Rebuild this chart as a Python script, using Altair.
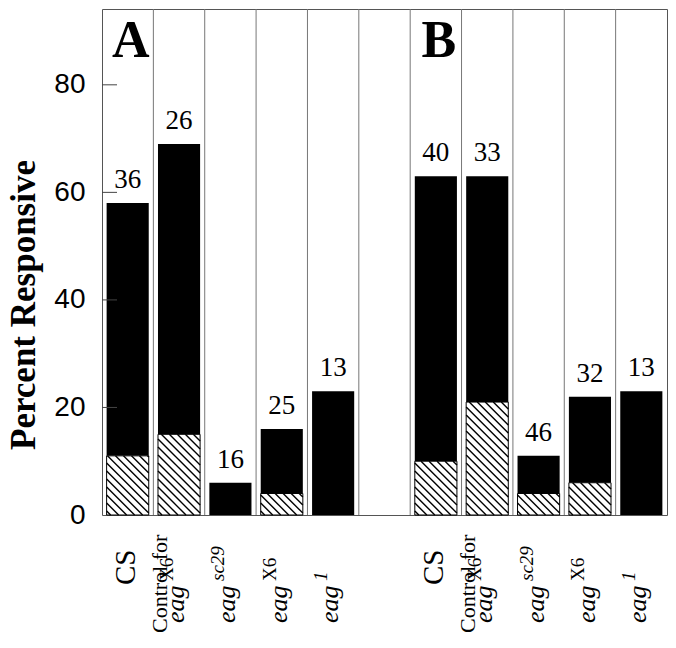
import altair as alt
import pandas as pd
import numpy as np

# ---------------- data ----------------
panels = ["A", "B"]
label_pre = ["", "Control for", "", "", ""]
label_base = ["CS", "eag", "eag", "eag", "eag"]
label_sup = ["", "X6", "sc29", "X6", "1"]
sup_italic = [False, False, True, False, True]

total_A = [58, 69, 6, 16, 23]
hatch_A = [11, 15, 0, 4, 0]
n_A = [36, 26, 16, 25, 13]

total_B = [63, 63, 11, 22, 23]
hatch_B = [10, 21, 4, 6, 0]
n_B = [40, 33, 46, 32, 13]

y_ticks = [0, 20, 40, 60, 80]

# ---------------- layout constants ----------------
W, H = 565, 506
YMAX = 94.1
NCOL = 11
HALF = 0.41
SERIF = "Liberation Serif"
SANS = "Liberation Sans"

rows = []
for p, (tot, hat, ns) in enumerate([(total_A, hatch_A, n_A), (total_B, hatch_B, n_B)]):
    for i in range(5):
        rows.append(dict(panel=panels[p], pos=p * 6 + i, total=tot[i], hatch=hat[i], n=ns[i],
                         pre=label_pre[i], base=label_base[i], sup=label_sup[i],
                         sup_it=sup_italic[i]))
df = pd.DataFrame(rows)
df["x0"] = df["pos"] - HALF
df["x1"] = df["pos"] + HALF

# hatch lines (decoration derived from the hatched segment of each bar)
sx = W / NCOL
sy = H / YMAX
bw = 2 * HALF * sx
hl = []
for _, r in df[df.hatch > 0].iterrows():
    hh = r.hatch * sy
    for k in np.arange(4, bw + hh, 8.0):
        u0, u1 = max(0.0, k - hh), min(bw, k)
        if u1 - u0 < 0.5:
            continue
        hl.append(dict(hx=r.x0 + u0 / sx, hy=(k - u0) / sy, hx2=r.x0 + u1 / sx, hy2=(k - u1) / sy))
hdf = pd.DataFrame(hl)

seps = pd.DataFrame({"s": [k + 0.5 for k in range(NCOL - 1)]})
ticks_df = pd.DataFrame({"t": y_ticks[1:]})
letters = pd.DataFrame({"pos": [0, 6], "letter": panels})

xs = alt.Scale(domain=[-0.5, NCOL - 0.5], nice=False, zero=False)
ys = alt.Scale(domain=[0, YMAX], nice=False, zero=True)
yaxis = alt.Axis(values=y_ticks, ticks=False, domain=False, grid=False,
                 labelFont=SANS, labelFontSize=28, labelColor="black",
                 labelPadding=17, title=None)

base = alt.Chart(df)

sep_layer = alt.Chart(seps).mark_rule(color="#777", strokeWidth=1).encode(
    x=alt.X("s:Q", scale=xs, axis=None), y=alt.value(0), y2=alt.value(H))

tick_layer = alt.Chart(ticks_df).mark_rule(color="#444", strokeWidth=1).encode(
    y=alt.Y("t:Q", scale=ys, axis=yaxis), x=alt.value(0), x2=alt.value(15))

black = base.mark_rect(color="black").encode(
    x=alt.X("x0:Q", scale=xs, axis=None), x2="x1:Q",
    y=alt.Y("hatch:Q", scale=ys, axis=yaxis),
    y2="total:Q")

hatch_rect = base.transform_filter("datum.hatch > 0").mark_rect(
    fill="white", stroke="black", strokeWidth=1).encode(
    x=alt.X("x0:Q", scale=xs, axis=None), x2="x1:Q",
    y=alt.Y("hatch:Q", scale=ys, axis=yaxis), y2=alt.datum(0))

hatch_lines = alt.Chart(hdf).mark_rule(color="black", strokeWidth=1.4).encode(
    x=alt.X("hx:Q", scale=xs, axis=None), x2="hx2:Q",
    y=alt.Y("hy:Q", scale=ys, axis=yaxis), y2="hy2:Q")

n_text = base.mark_text(font=SERIF, fontSize=27, baseline="alphabetic", dy=-15,
                        color="black").encode(
    x=alt.X("pos:Q", scale=xs, axis=None), y=alt.Y("total:Q", scale=ys, axis=yaxis),
    text="n:N")

letter_text = alt.Chart(letters).mark_text(font=SERIF, fontSize=52, fontWeight="bold",
                                           baseline="alphabetic", dx=3, color="black").encode(
    x=alt.X("pos:Q", scale=xs, axis=None), y=alt.value(48), text="letter:N")

ytitle = alt.Chart(pd.DataFrame({"t": ["Percent Responsive"]})).mark_text(
    font=SERIF, fontSize=35, fontWeight="bold", angle=270, align="center",
    baseline="alphabetic", color="black").encode(
    x=alt.value(-67), y=alt.value(296), text="t:N")

# x labels (rotated; dy = horizontal screen offset for angle 270)
cs_lab = base.transform_filter("datum.base == 'CS'").mark_text(
    font=SERIF, fontSize=29, angle=270, align="left", baseline="alphabetic",
    dy=7, color="black").encode(
    x=alt.X("pos:Q", scale=xs, axis=None), y=alt.value(576), text="base:N")

pre_lab = base.transform_filter("datum.pre != ''").mark_text(
    font=SERIF, fontSize=22, angle=270, align="left", baseline="alphabetic",
    dy=-12, color="black").encode(
    x=alt.X("pos:Q", scale=xs, axis=None), y=alt.value(624), text="pre:N")

eag_lab = base.transform_filter("datum.base == 'eag'").mark_text(
    font=SERIF, fontSize=26, fontStyle="italic", angle=270, align="left",
    baseline="alphabetic", dy=5, color="black").encode(
    x=alt.X("pos:Q", scale=xs, axis=None), y=alt.value(614), text="base:N")

sup_it = base.transform_filter("datum.sup != '' && datum.sup_it").mark_text(
    font=SERIF, fontSize=19, fontStyle="italic", angle=270, align="left",
    baseline="alphabetic", dy=-6, color="black").encode(
    x=alt.X("pos:Q", scale=xs, axis=None), y=alt.value(572), text="sup:N")

sup_up = base.transform_filter("datum.sup != '' && !datum.sup_it").mark_text(
    font=SERIF, fontSize=19, angle=270, align="left",
    baseline="alphabetic", dy=-6, color="black").encode(
    x=alt.X("pos:Q", scale=xs, axis=None), y=alt.value(572), text="sup:N")

chart = alt.layer(
    black, sep_layer, tick_layer, hatch_rect, hatch_lines, n_text, letter_text, ytitle,
    cs_lab, pre_lab, eag_lab, sup_it, sup_up
).properties(
    width=W, height=H,
    autosize=alt.AutoSizeParams(type="none"),
    padding={"left": 94, "top": 1, "right": 1, "bottom": 125},
    background="white",
).configure_view(stroke="#555", strokeWidth=1)

chart.save("out.html", embed_options={"renderer": "svg", "actions": False})
